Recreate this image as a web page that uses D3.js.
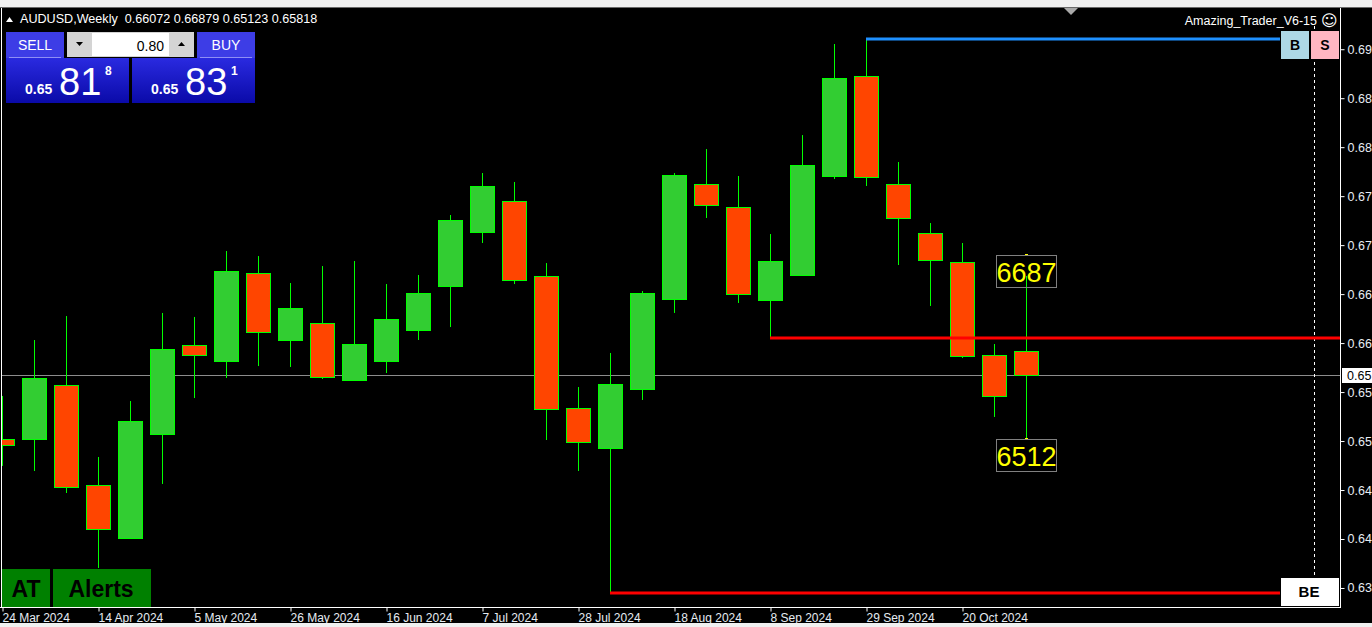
<!DOCTYPE html>
<html>
<head>
<meta charset="utf-8">
<script src="https://cdn.jsdelivr.net/npm/d3@7"></script>
<style>
  html, body { margin: 0; padding: 0; background: #f0f0f0; overflow: hidden; }
  svg { display: block; font-family: "Liberation Sans", Arial, sans-serif; }
</style>
</head>
<body>
<div id="chart"></div>
<script>
// AUDUSD weekly candles
var weeks  = ['2024-03-24','2024-03-31','2024-04-07','2024-04-14','2024-04-21','2024-04-28','2024-05-05',
              '2024-05-12','2024-05-19','2024-05-26','2024-06-02','2024-06-09','2024-06-16','2024-06-23',
              '2024-06-30','2024-07-07','2024-07-14','2024-07-21','2024-07-28','2024-08-04','2024-08-11',
              '2024-08-18','2024-08-25','2024-09-01','2024-09-08','2024-09-15','2024-09-22','2024-09-29',
              '2024-10-06','2024-10-13','2024-10-20','2024-10-27','2024-11-03'];
var opens  = [0.65132,0.65132,0.65711,0.64639,0.64071,0.65186,0.66140,0.65968,0.66911,0.66193,0.66375,
              0.65764,0.65968,0.66300,0.66772,0.67351,0.67683,0.66879,0.65464,0.65036,0.65668,0.66633,
              0.67865,0.67619,0.66622,0.66890,0.67951,0.69023,0.67865,0.67340,0.67029,0.66032,0.66072];
var highs  = [0.65593,0.66193,0.66450,0.64939,0.65539,0.66483,0.66440,0.67147,0.67093,0.66804,0.66986,
              0.67040,0.66793,0.66890,0.67533,0.67983,0.67887,0.67018,0.65689,0.66054,0.66718,0.67983,
              0.68240,0.67951,0.67329,0.68390,0.69366,0.69419,0.68101,0.67447,0.67233,0.66150,0.66879];
var lows   = [0.64843,0.64789,0.64553,0.63749,0.64071,0.64650,0.65571,0.65786,0.65914,0.65904,0.65775,
              0.65754,0.65839,0.66193,0.66332,0.67233,0.66793,0.65121,0.64789,0.63481,0.65550,0.66483,
              0.67501,0.66590,0.66215,0.66890,0.67919,0.67844,0.66997,0.66558,0.66000,0.65368,0.65123];
var closes = [0.65068,0.65786,0.64618,0.64167,0.65325,0.66097,0.66032,0.66933,0.66279,0.66536,0.65797,
              0.66150,0.66418,0.66697,0.67479,0.67844,0.66836,0.65454,0.65100,0.65722,0.66697,0.67962,
              0.67640,0.66686,0.67040,0.68069,0.69001,0.67940,0.67501,0.67051,0.66022,0.65593,0.65818];

var xTickDates  = ['2024-03-24','2024-04-14','2024-05-05','2024-05-26','2024-06-16','2024-07-07',
                   '2024-07-28','2024-08-18','2024-09-08','2024-09-29','2024-10-20'];
var yTicks      = [0.63535,0.64060,0.64585,0.65110,0.65635,0.66160,0.66685,0.67210,0.67735,0.68260,0.68785,0.69310];
var yTickLabels = ['0.63','0.64','0.64','0.65','0.65','0.66','0.66','0.67','0.67','0.68','0.68','0.69'];

// horizontal levels drawn by the indicator
var levelValues = [0.69419, 0.66215, 0.63481];
var levelStarts = ['2024-09-29', '2024-09-08', '2024-08-04'];

var symbol = 'AUDUSD,Weekly';
var bid = 0.65818, ask = 0.65831, lots = '0.80';
var indicatorName = 'Amazing_Trader_V6-15';

(function () {
    var W = 1372, H = 627;
    var left = 2, right = 1340, top = 8, bottom = 607;
    var parse = d3.utcParse('%Y-%m-%d');

    var data = weeks.map(function (w, i) {
        return { date: parse(w), o: opens[i], h: highs[i], l: lows[i], c: closes[i] };
    });
    var last = data[data.length - 1];

    var x = d3.scaleUtc()
        .domain([parse(weeks[0]), parse(weeks[weeks.length - 1])])
        .range([2, 1026]);
    var y = d3.scaleLinear().domain([0.63331, 0.69752]).range([bottom, top]);

    var svg = d3.select('#chart').append('svg').attr('width', W).attr('height', H);

    // window chrome + black chart
    svg.append('rect').attr('width', W).attr('height', H).attr('fill', '#f0f0f0');
    svg.append('rect').attr('x', 0).attr('y', 8).attr('width', W).attr('height', 615).attr('fill', '#000');
    svg.append('line').attr('x1', 0).attr('x2', W).attr('y1', 7.5).attr('y2', 7.5).attr('stroke', '#696969');
    svg.append('line').attr('x1', 1.5).attr('x2', 1.5).attr('y1', 8).attr('y2', bottom).attr('stroke', '#fff');

    svg.append('defs').append('clipPath').attr('id', 'plot')
        .append('rect').attr('x', left).attr('y', top).attr('width', right - left).attr('height', bottom - top);
    var plot = svg.append('g').attr('clip-path', 'url(#plot)');

    // current price line
    plot.append('line')
        .attr('x1', 0).attr('x2', right)
        .attr('y1', Math.round(y(bid)) + 0.5).attr('y2', Math.round(y(bid)) + 0.5)
        .attr('stroke', '#8c8c8c');

    // dashed shift line
    plot.append('line')
        .attr('x1', 1314.5).attr('x2', 1314.5).attr('y1', 26).attr('y2', 578)
        .attr('stroke', '#fff').attr('stroke-dasharray', '3,3');

    // candles
    var candle = plot.selectAll('g.candle').data(data).enter().append('g').attr('class', 'candle');
    candle.append('line')
        .attr('x1', function (d) { return Math.round(x(d.date)) + 0.5; })
        .attr('x2', function (d) { return Math.round(x(d.date)) + 0.5; })
        .attr('y1', function (d) { return y(d.h); })
        .attr('y2', function (d) { return y(d.l); })
        .attr('stroke', '#00ff00');
    candle.append('rect')
        .attr('x', function (d) { return Math.round(x(d.date)) - 12 + 0.5; })
        .attr('width', 24)
        .attr('y', function (d) { return Math.round(y(Math.max(d.o, d.c))) + 0.5; })
        .attr('height', function (d) { return Math.max(1, Math.round(Math.abs(y(d.o) - y(d.c)))); })
        .attr('fill', function (d) { return d.c >= d.o ? '#32cd32' : '#ff4500'; })
        .attr('stroke', '#00ff00');

    // level lines
    var levelColors = ['#1e90ff', '#ff0000', '#ff0000'];
    var levelEnds = [1280, right, 1280];
    levelValues.forEach(function (v, i) {
        var ly = Math.round(y(v));
        plot.append('line')
            .attr('x1', Math.round(x(parse(levelStarts[i])))).attr('x2', levelEnds[i])
            .attr('y1', ly).attr('y2', ly)
            .attr('stroke', levelColors[i]).attr('stroke-width', 3);
    });

    // high / low labels of the last bar
    function hiLoLabel(value, boxTop, dotY) {
        var cx = Math.round(x(last.date));
        plot.append('rect').attr('x', cx - 1).attr('y', dotY).attr('width', 3).attr('height', 2).attr('fill', '#ffff00');
        plot.append('rect')
            .attr('x', cx - 29.5).attr('y', boxTop + 0.5).attr('width', 60).attr('height', 32)
            .attr('fill', 'none').attr('stroke', '#808080');
        plot.append('text')
            .attr('x', cx + 0.5).attr('y', boxTop + 27)
            .attr('text-anchor', 'middle').attr('font-size', 27).attr('fill', '#ffff00')
            .text(value.toFixed(5).slice(2, 6));
    }
    hiLoLabel(last.h, Math.round(y(last.h)) - 21, Math.round(y(last.h)) - 22);
    hiLoLabel(last.l, Math.round(y(last.l)) - 1, Math.round(y(last.l)) - 2);

    // right price axis
    var yAxis = svg.append('g').attr('transform', 'translate(' + (right + 0.5) + ',0)')
        .call(d3.axisRight(y).tickValues(yTicks)
            .tickFormat(function (d, i) { return yTickLabels[i]; })
            .tickSize(4).tickPadding(3));
    yAxis.select('.domain').remove();
    yAxis.selectAll('line').attr('stroke', '#fff');
    yAxis.selectAll('text').attr('fill', '#e6ecf2').attr('font-size', 12.5)
        .attr('font-family', '"Liberation Sans", Arial, sans-serif');
    svg.append('line').attr('x1', right + 0.5).attr('x2', right + 0.5).attr('y1', top).attr('y2', bottom + 1)
        .attr('stroke', '#fff');

    // current price tag (price axis shows truncated digits)
    var py = Math.round(y(bid));
    svg.append('rect').attr('x', 1342).attr('y', py - 7).attr('width', 30).attr('height', 15).attr('fill', '#fff');
    svg.append('text').attr('x', 1347).attr('y', py + 5).attr('font-size', 12.5).attr('fill', '#000')
        .text(bid.toFixed(5).slice(0, 4));

    // bottom time axis
    var xAxis = svg.append('g').attr('transform', 'translate(0,' + (bottom + 0.5) + ')')
        .call(d3.axisBottom(x).tickValues(xTickDates.map(parse))
            .tickFormat(d3.utcFormat('%-d %b %Y')).tickSize(4));
    xAxis.select('.domain').remove();
    xAxis.selectAll('line').attr('stroke', '#fff')
        .attr('transform', function () { return 'translate(0.5,0)'; });
    xAxis.selectAll('text').attr('fill', '#e6ecf2').attr('font-size', 12).attr('text-anchor', 'start')
        .attr('font-family', '"Liberation Sans", Arial, sans-serif')
        .attr('y', 14).attr('dy', 0).attr('x', 0);
    svg.append('line').attr('x1', 0).attr('x2', right + 1).attr('y1', bottom + 0.5).attr('y2', bottom + 0.5)
        .attr('stroke', '#fff');
    svg.append('rect').attr('x', 0).attr('y', 623).attr('width', W).attr('height', 4).attr('fill', '#f0f0f0');

    // chart shift marker
    svg.append('path').attr('d', 'M1064,8 L1078,8 L1071,15 Z').attr('fill', '#a9a9a9');

    // header line
    svg.append('path').attr('d', 'M6,22 L13,22 L9.5,17 Z').attr('fill', '#fff');
    svg.append('text').attr('x', 20).attr('y', 23).attr('font-size', 12.6).attr('fill', '#fff')
        .style('white-space', 'pre')
        .text(symbol + '  ' + [last.o, last.h, last.l, last.c].map(function (v) { return v.toFixed(5); }).join(' '));

    svg.append('text').attr('x', 1317).attr('y', 25).attr('font-size', 12.5).attr('fill', '#fff')
        .attr('text-anchor', 'end').text(indicatorName);
    svg.append('text').attr('x', 1321).attr('y', 26).attr('font-size', 16).attr('fill', '#fff')
        .attr('font-family', '"DejaVu Sans", sans-serif').text('\u263A');

    // one-click trading panel
    var grad = svg.select('defs').append('linearGradient').attr('id', 'bluebox')
        .attr('x1', 0).attr('x2', 0).attr('y1', 0).attr('y2', 1);
    grad.append('stop').attr('offset', '0%').attr('stop-color', '#2a2ae0');
    grad.append('stop').attr('offset', '100%').attr('stop-color', '#0a0aa8');

    function button(bx, label) {
        svg.append('rect').attr('x', bx).attr('y', 32).attr('width', 58).attr('height', 26).attr('fill', '#3d3de6');
        svg.append('line').attr('x1', bx + 3).attr('x2', bx + 55).attr('y1', 57.5).attr('y2', 57.5).attr('stroke', '#8f8ff5');
        svg.append('text').attr('x', bx + 29).attr('y', 50).attr('text-anchor', 'middle')
            .attr('font-size', 14).attr('fill', '#fff').text(label);
    }
    function priceBox(bx, price) {
        var s = price.toFixed(5);
        svg.append('rect').attr('x', bx).attr('y', 58).attr('width', 123).attr('height', 45)
            .attr('fill', 'url(#bluebox)');
        svg.append('text').attr('x', bx + 19).attr('y', 94).attr('font-size', 14).attr('font-weight', 'bold')
            .attr('fill', '#fff').text(s.slice(0, 4));
        svg.append('text').attr('x', bx + 53).attr('y', 95).attr('font-size', 38)
            .attr('fill', '#fff').text(s.slice(4, 6));
        svg.append('text').attr('x', bx + 99).attr('y', 75).attr('font-size', 12).attr('font-weight', 'bold')
            .attr('fill', '#fff').text(s.slice(6, 7));
    }
    button(6, 'SELL');
    button(197, 'BUY');
    priceBox(6, bid);
    priceBox(132, ask);

    svg.append('rect').attr('x', 67).attr('y', 32).attr('width', 127).attr('height', 25).attr('fill', '#d4d4d4');
    svg.append('rect').attr('x', 92).attr('y', 33).attr('width', 77).attr('height', 23).attr('fill', '#fff');
    svg.append('path').attr('d', 'M76,42 L83,42 L79.5,46 Z').attr('fill', '#000');
    svg.append('path').attr('d', 'M178,46 L185,46 L181.5,42 Z').attr('fill', '#000');
    svg.append('text').attr('x', 164).attr('y', 51).attr('text-anchor', 'end').attr('font-size', 14)
        .attr('fill', '#000').text(lots);

    // B / S and BE buttons
    svg.append('rect').attr('x', 1281).attr('y', 31).attr('width', 28).attr('height', 28).attr('fill', '#add8e6');
    svg.append('rect').attr('x', 1311).attr('y', 31).attr('width', 28).attr('height', 28).attr('fill', '#ffb6c1');
    svg.append('text').attr('x', 1295).attr('y', 50).attr('text-anchor', 'middle').attr('font-size', 14)
        .attr('font-weight', 'bold').text('B');
    svg.append('text').attr('x', 1325).attr('y', 50).attr('text-anchor', 'middle').attr('font-size', 14)
        .attr('font-weight', 'bold').text('S');
    svg.append('rect').attr('x', 1281).attr('y', 578).attr('width', 58).attr('height', 28).attr('fill', '#fff');
    svg.append('text').attr('x', 1309).attr('y', 597).attr('text-anchor', 'middle').attr('font-size', 15)
        .attr('font-weight', 'bold').text('BE');

    // AT / Alerts buttons
    svg.append('rect').attr('x', 2).attr('y', 569).attr('width', 48).attr('height', 38).attr('fill', '#008000');
    svg.append('rect').attr('x', 53).attr('y', 569).attr('width', 98).attr('height', 38).attr('fill', '#008000');
    svg.append('text').attr('x', 26).attr('y', 597).attr('text-anchor', 'middle').attr('font-size', 23)
        .attr('font-weight', 'bold').text('AT');
    svg.append('text').attr('x', 101).attr('y', 597).attr('text-anchor', 'middle').attr('font-size', 23)
        .attr('font-weight', 'bold').text('Alerts');
})();
</script>
</body>
</html>
